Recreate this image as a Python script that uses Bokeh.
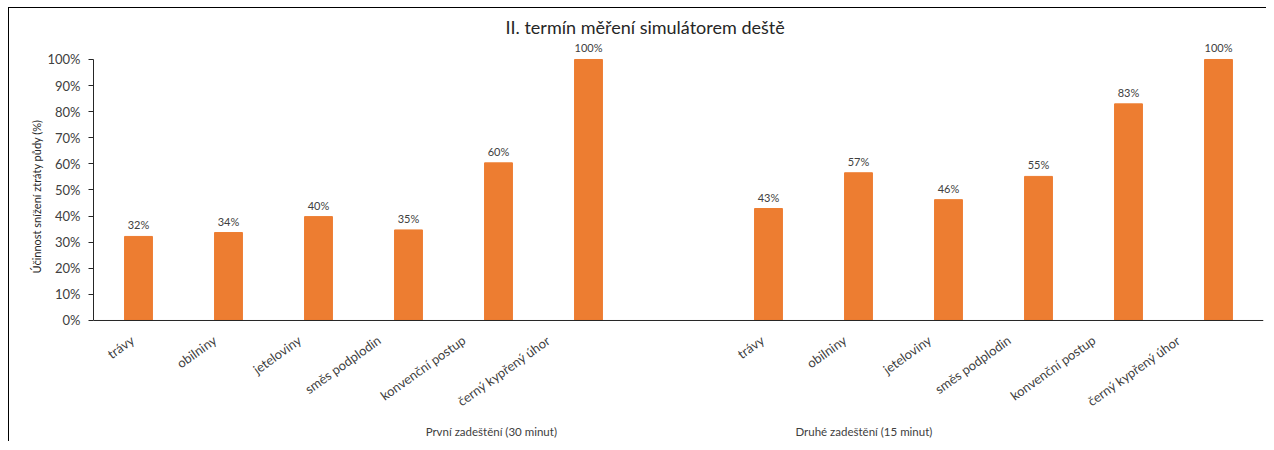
from bokeh.plotting import figure
from bokeh.models import (ColumnDataSource, Range1d, FixedTicker, LinearAxis,
                          NumeralTickFormatter, Title, Span)
from bokeh.core.properties import value
from bokeh.embed import file_html
from bokeh.resources import INLINE

# ---- data ----
categories = ["trávy", "obilniny", "jeteloviny", "směs podplodin",
              "konvenční postup", "černý kypřený úhor"]
groups = ["První zadeštění (30 minut)", "Druhé zadeštění (15 minut)"]
values_first = [0.322, 0.337, 0.398, 0.347, 0.604, 1.0]
values_second = [0.429, 0.566, 0.463, 0.552, 0.830, 1.0]
title_text = "II. termín měření simulátorem deště"
y_label = "Účinnost snížení ztráty půdy (%)"
y_ticks = [0.0, 0.1, 0.2, 0.3, 0.4, 0.5, 0.6, 0.7, 0.8, 0.9, 1.0]

FONT = "Lato"
TXT = "#404040"
ORANGE = "#ED7D31"
ANGLE = 0.62

# slot positions: group 1 at 0..5, empty slot 6, group 2 at 7..12
xs = list(range(6)) + list(range(7, 13))
tops = values_first + values_second
labels = [f"{int(v * 100 + 0.5):d}%" for v in tops]
names = categories + categories
group_pos = [3.92, 8.06]

src = ColumnDataSource(dict(x=xs, top=tops, lab=labels))
# Excel-like placement of rotated category labels: shift left with text length
cat_src = ColumnDataSource(dict(x=xs, y=[0] * len(xs), name=names,
                                xoff=[-(2.6 * len(n) - 7) for n in names]))
grp_src = ColumnDataSource(dict(x=group_pos, y=[0] * len(group_pos), name=groups))

# frame extends below zero so that the category texts live inside it
p = figure(width=1258, height=434, output_backend="svg", toolbar_location=None,
           x_range=Range1d(-0.5, 12.5), y_range=Range1d(-0.4598, 1.0766),
           x_axis_type=None, y_axis_type=None,
           min_border_left=84, min_border_right=4, min_border_top=31,
           min_border_bottom=2,
           styles={"margin-left": "8px", "margin-top": "7px",
                   "border-left": "1px solid #000", "border-top": "1px solid #000"})
p.outline_line_color = None
p.xgrid.visible = False
p.ygrid.visible = False

t = Title(text=title_text, align="left", text_font=FONT, text_font_size="18px",
          text_font_style="normal", text_color="#262626", standoff=4, offset=412)
p.add_layout(t, "above")

p.vbar(x="x", top="top", width=0.31, source=src, fill_color=ORANGE,
       line_color=ORANGE)
p.text(x="x", y="top", text="lab", source=src, y_offset=-5,
       text_align="center", text_baseline="bottom",
       text_font=value(FONT), text_font_size="11px", text_color=TXT)

# x axis line at zero
p.add_layout(Span(location=0, dimension="width", line_color="#262626",
                  line_width=1))

# category labels
p.text(x="x", y="y", text="name", source=cat_src, x_offset="xoff", y_offset=18,
       angle=ANGLE, text_align="right", text_baseline="middle",
       text_font=value(FONT), text_font_size="13px", text_color=TXT)

# group labels
p.text(x="x", y="y", text="name", source=grp_src, y_offset=111,
       text_align="center", text_baseline="middle",
       text_font=value(FONT), text_font_size="11.5px", text_color=TXT)

# y axis
ya = LinearAxis(ticker=FixedTicker(ticks=y_ticks),
                formatter=NumeralTickFormatter(format="0%"),
                bounds=(0, 1))
ya.axis_line_color = "#262626"
ya.major_tick_line_color = "#262626"
ya.major_tick_out = 5
ya.major_tick_in = 0
ya.minor_tick_line_color = None
ya.major_label_text_font = FONT
ya.major_label_text_font_size = "13px"
ya.major_label_text_color = TXT
ya.major_label_standoff = 8
p.add_layout(ya, "left")

# y axis title, placed along the 0-100 % part of the axis
yt = Title(text=y_label, align="left", offset=167, text_font=FONT,
           text_font_size="11px", text_font_style="normal",
           text_color="#262626", standoff=4)
p.add_layout(yt, "left")

open("out.html", "w").write(file_html(p, INLINE))
